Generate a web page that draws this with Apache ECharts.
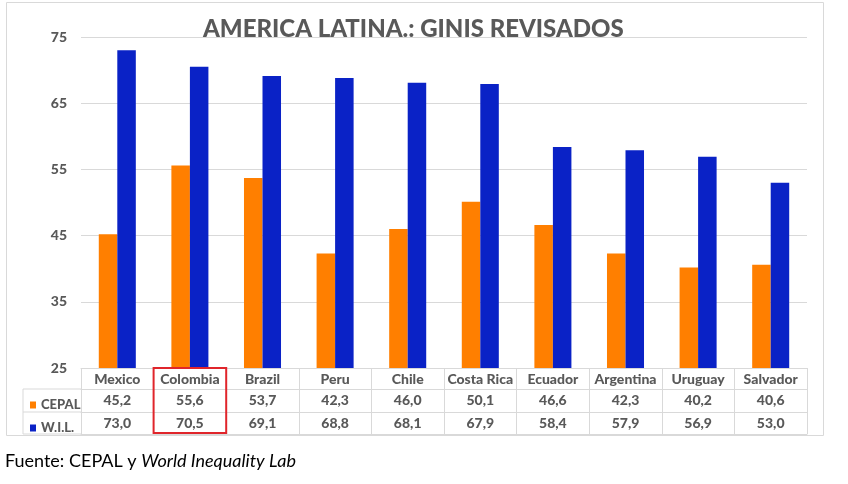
<!DOCTYPE html>
<html>
<head>
<meta charset="utf-8">
<script src="https://cdn.jsdelivr.net/npm/echarts@6/dist/echarts.min.js"></script>
<style>
  html, body { margin: 0; padding: 0; background: #fff; }
  #chart { width: 848px; height: 484px; }
</style>
</head>
<body>
<div id="chart"></div>
<script>
// data
var countries = ['Mexico', 'Colombia', 'Brazil', 'Peru', 'Chile', 'Costa Rica', 'Ecuador', 'Argentina', 'Uruguay', 'Salvador'];
var cepal = [45.2, 55.6, 53.7, 42.3, 46.0, 50.1, 46.6, 42.3, 40.2, 40.6];
var wil = [73.0, 70.5, 69.1, 68.8, 68.1, 67.9, 58.4, 57.9, 56.9, 53.0];
var seriesNames = ['CEPAL', 'W.I.L.'];
var yTicks = [25, 35, 45, 55, 65, 75];

var GRAY = '#595959',
    LINE = '#d9d9d9',
    FONT = 'Lato';

function numfix(v) {
    return v.toFixed(1).replace('.', ',');
}

// one x axis per table row, stacked under the plot
function tableAxis(offset, fmt, showTicks) {
    return {
        type: 'category',
        data: countries,
        position: 'bottom',
        offset: offset,
        boundaryGap: true,
        axisLine: { show: true, lineStyle: { color: LINE, width: 1 } },
        axisTick: { show: showTicks, interval: 0, length: 66, lineStyle: { color: LINE } },
        axisLabel: {
            show: !!fmt,
            interval: 0,
            margin: 3,
            color: GRAY,
            fontFamily: FONT,
            fontWeight: 900,
            fontSize: 14,
            lineHeight: 16,
            formatter: fmt || undefined
        }
    };
}

var chart = echarts.init(document.getElementById('chart'));

var option = {
    animation: false,
    grid: { left: 81, right: 41, top: 37, bottom: 116 },
    legend: {
        data: seriesNames,
        orient: 'vertical',
        left: 25,
        top: 393,
        icon: 'rect',
        itemWidth: 6,
        itemHeight: 7,
        itemGap: 9,
        textStyle: { color: GRAY, fontFamily: FONT, fontWeight: 900, fontSize: 13, lineHeight: 14 }
    },
    xAxis: [
        tableAxis(0, function (v) { return v; }, true),
        tableAxis(21, function (v, i) { return numfix(cepal[i]); }, false),
        tableAxis(44, function (v, i) { return numfix(wil[i]); }, false),
        tableAxis(66, null, false)
    ],
    yAxis: {
        type: 'value',
        min: yTicks[0],
        max: yTicks[yTicks.length - 1],
        interval: 10,
        axisLine: { show: false },
        axisTick: { show: false },
        splitLine: { lineStyle: { color: LINE } },
        axisLabel: { margin: 14, color: GRAY, fontFamily: FONT, fontWeight: 900, fontSize: 14 }
    },
    series: [
        { name: seriesNames[0], type: 'bar', data: cepal, barWidth: '25.5%', barGap: '0%', itemStyle: { color: '#ff7f00' } },
        { name: seriesNames[1], type: 'bar', data: wil, barWidth: '25.5%', barGap: '0%', itemStyle: { color: '#0a22c6' } }
    ],
    graphic: [
        // chart border
        { type: 'rect', shape: { x: 6.5, y: 2.5, width: 817, height: 433 }, style: { fill: 'none', stroke: LINE, lineWidth: 1 }, z: -1 },
        // legend column of the table
        { type: 'line', shape: { x1: 23, y1: 389, x2: 81, y2: 389 }, style: { stroke: LINE } },
        { type: 'line', shape: { x1: 23, y1: 412, x2: 81, y2: 412 }, style: { stroke: LINE } },
        { type: 'line', shape: { x1: 23, y1: 434, x2: 81, y2: 434 }, style: { stroke: LINE } },
        { type: 'line', shape: { x1: 23, y1: 389, x2: 23, y2: 434 }, style: { stroke: LINE } },
        // highlight on Colombia
        { type: 'rect', shape: { x: 153.6, y: 368, width: 72.6, height: 65 }, style: { fill: 'none', stroke: '#e0252b', lineWidth: 2 }, z: 100 },
        // title
        {
            type: 'text', left: 203, top: 17,
            style: { text: 'AMERICA LATINA.: GINIS REVISADOS', fill: GRAY, font: '900 24px Lato' },
            z: 100
        },
        // source
        {
            type: 'text', left: 5, top: 452,
            style: {
                text: '{n|Fuente: CEPAL y }{i|World Inequality Lab}',
                rich: {
                    n: { fontFamily: FONT, fontSize: 18, fill: '#000' },
                    i: { fontFamily: FONT, fontSize: 18, fontStyle: 'italic', fill: '#000' }
                }
            }
        }
    ]
};

chart.setOption(option);
</script>
</body>
</html>
